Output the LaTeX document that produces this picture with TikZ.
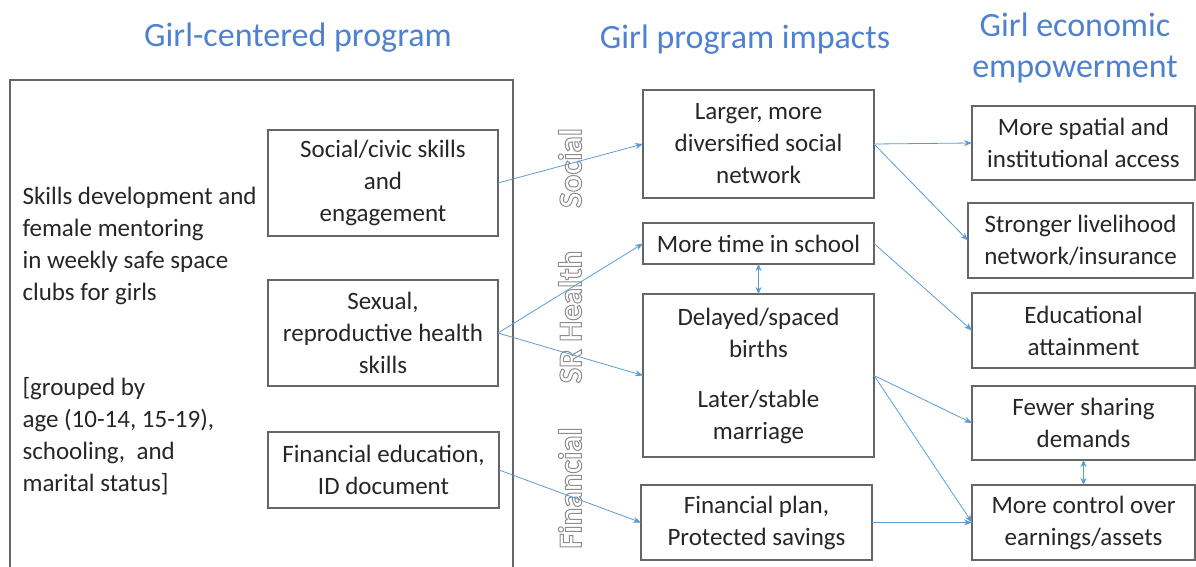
\documentclass[tikz,border=0pt]{standalone}
\usepackage{fontspec}
\setmainfont{Carlito}
\usetikzlibrary{arrows.meta}
\definecolor{arrowblue}{RGB}{91,155,213}
\definecolor{titleblue}{RGB}{79,129,209}
\definecolor{labelgray}{RGB}{140,140,140}
\newcommand{\hollow}[1]{\special{pdf:literal direct 1 Tr 1 w}#1\special{pdf:literal direct 0 Tr}}

\begin{document}
\begin{tikzpicture}[x=1pt,y=-1pt,
    box/.style={draw=black!60,line width=1.2pt,align=center,text=black!85,inner sep=0pt,outer sep=0pt,font=\fontsize{25}{32}\selectfont},
    link/.style={arrowblue,line width=0.8pt,-{Stealth[length=8pt,width=6pt]}},
    twoway/.style={arrowblue,line width=0.8pt,{Stealth[length=7pt,width=6pt]}-{Stealth[length=7pt,width=6pt]}},
    heading/.style={titleblue,align=center,font=\fontsize{34}{41}\selectfont},
    strand/.style={labelgray,rotate=90,font=\fontsize{33}{38}\bfseries\selectfont}]
  \useasboundingbox (0,0) rectangle (1196,567);
  % titles
  \node[heading] (progtitle) at (298,38) {Girl-centered program};
  \node[heading] (imptitle) at (745,40) {Girl program impacts};
  \node[heading] (emptitle) at (1075,48) {Girl economic\\empowerment};
  % program
  \draw[black!60,line width=1.2pt] (10,600) -- (10,80) -- (513,80) -- (513,600);
  \node[anchor=north west,align=left,text=black!85,font=\fontsize{25}{32}\selectfont] (club) at (19,184)
    {Skills development and\\female mentoring\\in weekly safe space\\clubs for girls\\[63pt]{[}grouped by\\age (10-14, 15-19),\\schooling,\ \ and\\marital status{]}};
  \node[box,minimum width=230pt,minimum height=106pt] (civic) at (383,183) {Social/civic skills\\and\\engagement};
  \node[box,minimum width=230pt,minimum height=106pt] (health) at (383,333) {Sexual,\\reproductive health\\skills};
  \node[box,minimum width=231pt,minimum height=76pt] (fined) at (383.5,470) {Financial education,\\ID document};
  % strands
  \node[strand] (social) at (570,168) {\hollow{Social}};
  \node[strand] (srhealth) at (570,317) {\hollow{SR Health}};
  \node[strand] (financial) at (570,488) {\hollow{Financial}};
  % impacts
  \node[box,minimum width=231pt,minimum height=108pt] (network) at (758.5,144) {Larger, more\\diversified social\\network};
  \node[box,minimum width=231pt,minimum height=41pt] (school) at (758.5,243.5) {More time in school};
  \node[box,minimum width=231pt,minimum height=163pt] (births) at (758.5,375.5) {Delayed/spaced\\births\\[18pt]Later/stable\\marriage};
  \node[box,minimum width=231pt,minimum height=75pt] (savings) at (756.5,522.5) {Financial plan,\\Protected savings};
  % empowerment
  \node[box,minimum width=223pt,minimum height=74pt] (access) at (1083.5,143) {More spatial and\\institutional access};
  \node[box,minimum width=225pt,minimum height=75pt] (insure) at (1080.5,240.5) {Stronger livelihood\\network/insurance};
  \node[box,minimum width=223pt,minimum height=75pt] (educ) at (1083.5,330.5) {Educational\\attainment};
  \node[box,minimum width=223pt,minimum height=74pt] (sharing) at (1083.5,423) {Fewer sharing\\demands};
  \node[box,minimum width=223pt,minimum height=75pt] (control) at (1083.5,522.5) {More control over\\earnings/assets};
  % links
  \draw[link] (civic.east) -- (network.west);
  \draw[link] (health.east) -- (school.west);
  \draw[link] (health.east) -- (births.west);
  \draw[link] (fined.east) -- (savings.west);
  \draw[link] (network.east) -- (access.west);
  \draw[link] (network.east) -- (insure.west);
  \draw[link] (school.east) -- (educ.west);
  \draw[link] (births.east) -- (sharing.west);
  \draw[link] (births.east) -- (control.west);
  \draw[link] (savings.east) -- (control.west);
  \draw[twoway] (school.south) -- (births.north);
  \draw[twoway] (sharing.south) -- (control.north);
\end{tikzpicture}
\end{document}
